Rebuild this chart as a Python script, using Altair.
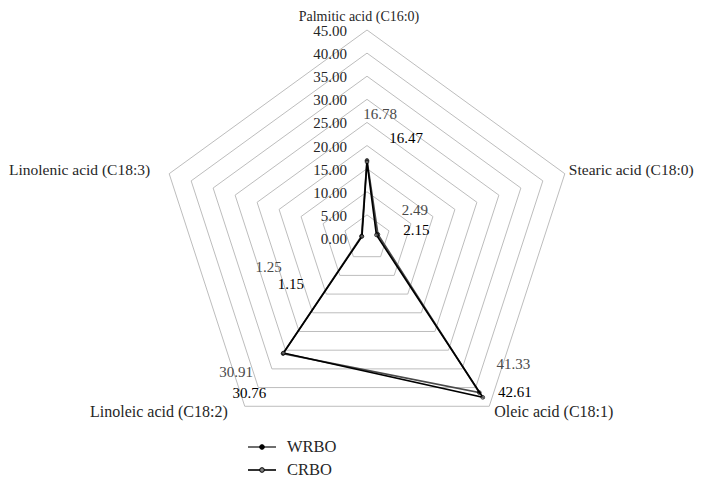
import math
import altair as alt
import pandas as pd

# ---------------- data ----------------
categories = ["Palmitic acid (C16:0)", "Stearic acid (C18:0)", "Oleic acid (C18:1)",
              "Linoleic acid (C18:2)", "Linolenic acid (C18:3)"]
series_names = ["WRBO", "CRBO"]
wrbo = [16.78, 2.49, 41.33, 30.91, 1.25]
crbo = [16.47, 2.15, 42.61, 30.76, 1.15]
tick_values = [0, 5, 10, 15, 20, 25, 30, 35, 40, 45]

# ---------------- styling / geometry ----------------
FONT = "Liberation Serif, Times New Roman, serif"
W, H = 686, 471
CX, CY = 359, 230          # centre of the radar in plot pixels
PX = 208 / 45              # pixels per unit
N = len(categories)

xs = alt.Scale(domain=[-CX / PX, (W - CX) / PX], nice=False, zero=False)
ys = alt.Scale(domain=[-(H - CY) / PX, CY / PX], nice=False, zero=False)

line_colors = ["#4a4a4a", "#000000"]
label_colors = ["#6b6b6b", "#111111"]
# pixel offsets of the data labels from their points (per series, per category)
label_dx = [[13, 37, 34, -47, -93], [39, 40, 32, -34, -71]]
label_dy = [[-46, -24, -29, 18, 31], [-24, -5, -5, 40, 48]]

# category label placement: (align, dx, dy, size)
cat_place = [("center", -8, -13.5, 14), ("left", 4, -4, 15.5), ("left", 5, 6, 16),
             ("right", -17, 6, 16), ("right", -19, -4, 15.5)]


def polar(chart):
    return chart.transform_calculate(
        ang=f"datum.k * 2 * PI / {N}",
    ).transform_calculate(
        x="datum.r * sin(datum.ang)",
        y="datum.r * cos(datum.ang)",
    )


X = alt.X("x:Q", scale=xs, axis=None)
Y = alt.Y("y:Q", scale=ys, axis=None)

# grid pentagons
grid_df = pd.DataFrame([{"r": v, "k": k} for v in tick_values[1:] for k in range(N + 1)])
grid = polar(alt.Chart(grid_df)).mark_line(color="#bdbdbd", strokeWidth=1).encode(
    x=X, y=Y, detail="r:N", order="k:Q")

# radial tick labels
tick_df = pd.DataFrame({"r": tick_values, "k": 0})
ticks = polar(alt.Chart(tick_df)).transform_calculate(
    lab="format(datum.r, '.2f')").mark_text(
    font=FONT, fontSize=15, align="right", baseline="middle", dx=-20, dy=1, color="#262626"
).encode(x=X, y=Y, text="lab:N")

# category labels
cat_layers = []
for k, name in enumerate(categories):
    align, dx, dy, fs = cat_place[k]
    d = pd.DataFrame({"r": [tick_values[-1]], "k": [k], "name": [name]})
    cat_layers.append(polar(alt.Chart(d)).mark_text(
        font=FONT, fontSize=fs, align=align, baseline="middle", dx=dx, dy=dy, color="#262626"
    ).encode(x=X, y=Y, text="name:N"))

# series
rows = []
for s, vals in zip(series_names, [wrbo, crbo]):
    closed = vals + vals[:1]
    for k, v in enumerate(closed):
        rows.append({"series": s, "k": k, "r": v})
ser_df = pd.DataFrame(rows)
color = alt.Color("series:N", scale=alt.Scale(domain=series_names, range=line_colors), legend=None)

lines = polar(alt.Chart(ser_df)).mark_line(strokeWidth=1.7).encode(
    x=X, y=Y, color=color, detail="series:N", order="k:Q")

points = polar(alt.Chart(ser_df)).transform_filter(f"datum.k < {N}").mark_point(
    filled=True, size=14, strokeWidth=1).encode(
    x=X, y=Y,
    fill=alt.Fill("series:N", scale=alt.Scale(domain=series_names, range=["#000000", "#808080"]), legend=None),
    stroke=alt.Stroke("series:N", scale=alt.Scale(domain=series_names, range=["#000000", "#000000"]), legend=None),
)

# data labels
lab_rows = []
for si, (s, vals) in enumerate(zip(series_names, [wrbo, crbo])):
    for k, v in enumerate(vals):
        lab_rows.append({"series": s, "k": k, "r": v, "txt": f"{v:.2f}",
                         "ox": label_dx[si][k], "oy": label_dy[si][k]})
lab_df = pd.DataFrame(lab_rows)
labels = polar(alt.Chart(lab_df)).transform_calculate(
    lx=f"datum.x + datum.ox / {PX}",
    ly=f"datum.y - datum.oy / {PX}",
).mark_text(font=FONT, fontSize=15, align="center", baseline="middle").encode(
    x=alt.X("lx:Q", scale=xs, axis=None),
    y=alt.Y("ly:Q", scale=ys, axis=None),
    text="txt:N",
    color=alt.Color("series:N", scale=alt.Scale(domain=series_names, range=label_colors), legend=None),
)

# manual legend
leg_layers = []
leg_fill = ["#000000", "#808080"]
base_leg = alt.Chart(pd.DataFrame({"a": [0]}))
for i, s in enumerate(series_names):
    yy = 439 + 23 * i
    leg_layers.append(base_leg.mark_rule(color=line_colors[i], strokeWidth=1.6).encode(
        x=alt.value(240), x2=alt.value(268), y=alt.value(yy)))
    leg_layers.append(base_leg.mark_point(filled=True, size=22, fill=leg_fill[i], stroke="#000000",
                                          strokeWidth=1, opacity=1).encode(
        x=alt.value(254), y=alt.value(yy)))
    leg_layers.append(base_leg.mark_text(font=FONT, fontSize=16.5, align="left", baseline="middle",
                                         color="#262626").encode(
        x=alt.value(279), y=alt.value(yy), text=alt.value(s)))

chart = alt.layer(grid, ticks, *cat_layers, lines, points, labels, *leg_layers).properties(
    width=W, height=H, autosize=alt.AutoSizeParams(type="none"), padding=0,
    background="#ffffff",
).configure_view(stroke=None)

chart.save("out.html", embed_options={"renderer": "svg", "actions": False})
